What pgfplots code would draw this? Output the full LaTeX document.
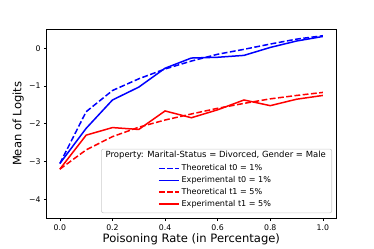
\documentclass[border=0pt]{standalone}
\usepackage{fontspec}
\setmainfont{DejaVu Sans}
\usepackage{pgfplots}
\pgfplotsset{compat=1.18}
\begin{document}
\begin{tikzpicture}
\path[use as bounding box] (-46.7bp,-30.7bp) rectangle (327.3bp,218.3bp);
\begin{axis}[
  scale only axis,
  width=289.3bp, height=189bp,
  xmin=-0.05, xmax=1.05, ymin=-4.5, ymax=0.5,
  xtick={0,0.2,0.4,0.6,0.8,1.0},
  xticklabels={0.0,0.2,0.4,0.6,0.8,1.0},
  ytick={-4,-3,-2,-1,0},
  yticklabels={−4,−3,−2,−1,0},
  tick align=outside,
  major tick length=2.7bp,
  tick style={black, line width=0.62bp},
  axis line style={line width=0.62bp},
  xtick pos=bottom, ytick pos=left,
  ticklabel style={font=\fontsize{7.8}{9}\selectfont},
  xlabel={Poisoning Rate (in Percentage)},
  ylabel={Mean of Logits},
  every axis x label/.style={at={(axis description cs:0.5,0)}, yshift=-20.7bp, anchor=center,
     font=\fontsize{11.6}{13}\selectfont},
  every axis y label/.style={at={(axis description cs:0,0.5)}, xshift=-28.4bp, rotate=90, anchor=center,
     font=\fontsize{11.6}{13}\selectfont},
  legend image code/.code={\draw[#1, line width=1.7bp] (0bp,0bp) -- (20bp,0bp);},
  legend style={at={(axis cs:0.5917,-3.653)}, anchor=center, draw=none, fill=none,
    font=\fontsize{8.1}{9.5}\selectfont, cells={anchor=west}, inner sep=0pt, row sep=0.2bp},
]
\addplot[blue, line width=1.5bp, dash pattern=on 5.8bp off 2.5bp] coordinates {
(0.0,-3.05) (0.1,-1.68) (0.2,-1.12) (0.3,-0.81) (0.4,-0.55) (0.5,-0.34) (0.6,-0.16) (0.7,-0.03) (0.8,0.11) (0.9,0.24) (1.0,0.33)};
\addlegendentry{Theoretical t0 = 1\%}
\addplot[blue, line width=1.5bp] coordinates {
(0.0,-3.05) (0.1,-2.12) (0.2,-1.37) (0.3,-1.03) (0.4,-0.53) (0.5,-0.26) (0.6,-0.24) (0.7,-0.19) (0.8,0.02) (0.9,0.19) (1.0,0.31)};
\addlegendentry{Experimental t0 = 1\%}
\addplot[red, line width=1.5bp, dash pattern=on 5.8bp off 2.5bp] coordinates {
(0.0,-3.2) (0.1,-2.69) (0.2,-2.34) (0.3,-2.09) (0.4,-1.90) (0.5,-1.74) (0.6,-1.59) (0.7,-1.46) (0.8,-1.34) (0.9,-1.25) (1.0,-1.17)};
\addlegendentry{Theoretical t1 = 5\%}
\addplot[red, line width=1.5bp] coordinates {
(0.0,-3.2) (0.1,-2.30) (0.2,-2.10) (0.3,-2.15) (0.4,-1.66) (0.5,-1.84) (0.6,-1.63) (0.7,-1.37) (0.8,-1.52) (0.9,-1.35) (1.0,-1.25)};
\addlegendentry{Experimental t1 = 5\%}
\draw[draw=black!20, line width=0.6bp, fill=white, fill opacity=0.8, rounded corners=2bp]
  (axis cs:0.158,-2.668) rectangle (axis cs:1.034,-4.355);
\node[font=\fontsize{8.5}{10}\selectfont, anchor=center] at (axis cs:0.5928,-2.826)
  {Property: Marital-Status = Divorced, Gender = Male};
\end{axis}
\end{tikzpicture}
\end{document}
